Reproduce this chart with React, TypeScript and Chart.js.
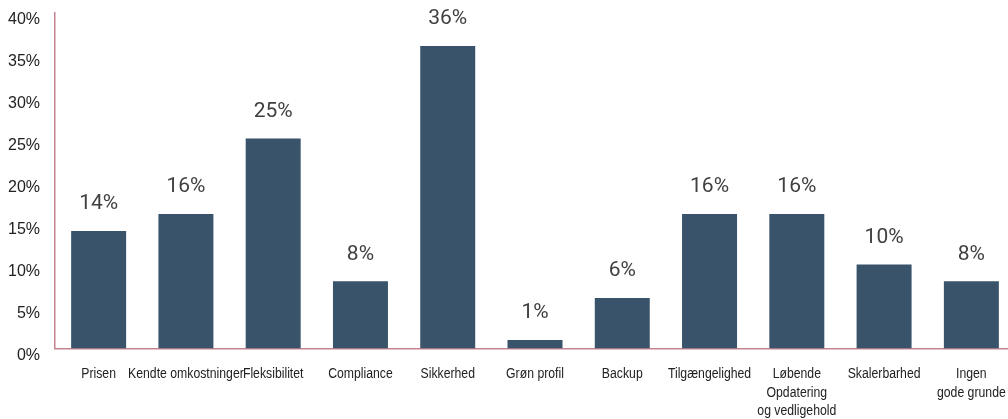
import React, { useEffect, useRef } from "react";
import { Chart, registerables } from "chart.js";

Chart.register(...registerables);

const categories: (string | string[])[] = [
  "Prisen",
  "Kendte omkostninger",
  "Fleksibilitet",
  "Compliance",
  "Sikkerhed",
  "Grøn profil",
  "Backup",
  "Tilgængelighed",
  ["Løbende", "Opdatering", "og vedligehold"],
  "Skalerbarhed",
  ["Ingen", "gode grunde"],
];

const values: number[] = [14, 16, 25, 8, 36, 1, 6, 16, 16, 10, 8];

const yTicks: number[] = [0, 5, 10, 15, 20, 25, 30, 35, 40];

const BAR_COLOR = "#38536A";
const AXIS_COLOR = "#C4838F";

const CANVAS_W = 1020;
const CANVAS_H = 419;

const valueLabelPlugin = {
  id: "valueLabels",
  afterDatasetsDraw(chart: any) {
    const ctx = chart.ctx;
    const meta = chart.getDatasetMeta(0);
    ctx.save();
    ctx.font = "21px Roboto, 'Liberation Sans', sans-serif";
    ctx.fillStyle = "#404040";
    ctx.textAlign = "center";
    ctx.textBaseline = "middle";
    meta.data.forEach((bar: any, i: number) => {
      const v = chart.data.datasets[0].data[i];
      ctx.fillText(Math.round(v) + "%", bar.x, bar.y - 27);
    });
    ctx.restore();
  },
};

// Draws the category labels in a condensed style (horizontally narrowed text)
const condensedXLabels = {
  id: "condensedXLabels",
  afterDraw(chart: any) {
    const ctx = chart.ctx;
    const xs = chart.scales.x;
    const labels = chart.data.labels as (string | string[])[];
    ctx.save();
    ctx.font = "15.5px 'Liberation Sans', Arial, sans-serif";
    ctx.fillStyle = "#222222";
    ctx.textAlign = "center";
    ctx.textBaseline = "middle";
    const sx = 0.79;
    labels.forEach((lab, i) => {
      const lines = Array.isArray(lab) ? lab : [lab];
      const x = xs.getPixelForTick(i);
      lines.forEach((line, j) => {
        const y = chart.chartArea.bottom + 25.5 + j * 18.3;
        ctx.save();
        ctx.translate(x, y);
        ctx.scale(sx, 1);
        ctx.fillText(line, 0, 0);
        ctx.restore();
      });
    });
    ctx.restore();
  },
};

export default function App() {
  const ref = useRef<HTMLCanvasElement>(null);

  useEffect(() => {
    if (!ref.current) return;
    const chart = new Chart(ref.current, {
      type: "bar",
      data: {
        labels: categories,
        datasets: [
          {
            data: values,
            backgroundColor: BAR_COLOR,
            categoryPercentage: 1,
            barPercentage: 0.63,
          },
        ],
      },
      plugins: [valueLabelPlugin, condensedXLabels],
      options: {
        responsive: false,
        animation: false,
        devicePixelRatio: 1,
        layout: {
          padding: { top: 12.5, right: CANVAS_W - 1015, bottom: 0, left: 0 },
        },
        plugins: {
          legend: { display: false },
          tooltip: { enabled: false },
          title: { display: false },
        },
        scales: {
          x: {
            grid: { display: false, drawTicks: false },
            border: { display: true, color: AXIS_COLOR, width: 1.5 },
            ticks: { display: false, autoSkip: false, maxRotation: 0, minRotation: 0 },
            afterFit(scale: any) {
              scale.height = 70.5;
              scale.paddingLeft = 0;
              scale.paddingRight = 0;
              scale.paddingTop = 0;
              scale.paddingBottom = 0;
            },
          },
          y: {
            min: 0,
            max: 40,
            grid: { display: false, drawTicks: false },
            border: { display: true, color: AXIS_COLOR, width: 1.5 },
            afterBuildTicks(scale: any) {
              scale.ticks = yTicks.map((v) => ({ value: v }));
            },
            ticks: {
              padding: 15,
              labelOffset: 7,
              color: "#222222",
              font: { family: "'Liberation Sans', Arial, sans-serif", size: 16 },
              callback: (v: any) => v + "%",
            },
            afterFit(scale: any) {
              scale.width = 55;
              scale.paddingLeft = 0;
              scale.paddingRight = 0;
              scale.paddingTop = 0;
              scale.paddingBottom = 0;
            },
          },
        },
      },
    });
    return () => chart.destroy();
  }, []);

  return (
    <div
      style={{
        position: "fixed",
        left: 0,
        top: 0,
        width: 1008,
        height: 419,
        overflow: "hidden",
        background: "#ffffff",
      }}
    >
      <canvas
        ref={ref}
        width={CANVAS_W}
        height={CANVAS_H}
        style={{ display: "block", width: CANVAS_W, height: CANVAS_H }}
      />
    </div>
  );
}
